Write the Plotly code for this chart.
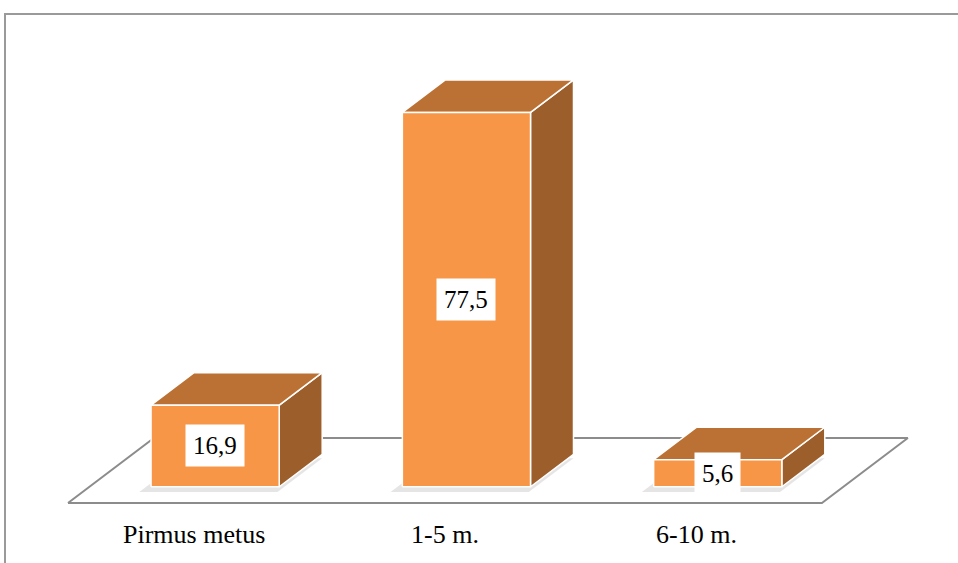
import plotly.graph_objects as go

# Data
categories = ["Pirmus metus", "1-5 m.", "6-10 m."]
values = [16.9, 77.5, 5.6]
value_labels = ["16,9", "77,5", "5,6"]

# Colours of the three visible faces
FRONT = "#F79646"
TOP = "#BC7134"
SIDE = "#9C5E2A"
FLOOR_LINE = "#8C8C8C"
SERIF = "Times New Roman, Liberation Serif, Tinos, serif"

# Oblique projection: one unit of depth moves a point right and up (data units)
DEPTH_DX = 0.342
DEPTH_DY = 13.45
BAR_WIDTH = 0.51
BAR_D0, BAR_D1 = 0.25, 0.75  # bar occupies the middle half of the floor depth


def proj(x, y, d):
    return x + d * DEPTH_DX, y + d * DEPTH_DY


def poly(points, fill, line_color, line_width):
    xs = [p[0] for p in points] + [points[0][0]]
    ys = [p[1] for p in points] + [points[0][1]]
    return go.Scatter(
        x=xs, y=ys, mode="lines", fill="toself" if fill else "none",
        fillcolor=fill, line=dict(color=line_color, width=line_width),
        hoverinfo="skip", showlegend=False,
    )


fig = go.Figure()

# Floor parallelogram under the bars
n = len(categories)
floor = [proj(0, 0, 0), proj(n, 0, 0), proj(n, 0, 1), proj(0, 0, 1)]
fig.add_trace(poly(floor, "white", FLOOR_LINE, 2))

annotations = []
for i, (cat, v, lab) in enumerate(zip(categories, values, value_labels)):
    x0 = i + 0.5 - BAR_WIDTH / 2
    x1 = i + 0.5 + BAR_WIDTH / 2
    # soft shadow on the floor
    sh = [proj(x0 - 0.04, -0.8, BAR_D0 - 0.02), proj(x1, -0.8, BAR_D0 - 0.02),
          proj(x1, -0.8, BAR_D1), proj(x0 - 0.04, -0.8, BAR_D1)]
    fig.add_trace(poly(sh, "rgba(110,110,110,0.18)", "rgba(0,0,0,0)", 0))
    # side face
    side = [proj(x1, 0, BAR_D0), proj(x1, 0, BAR_D1), proj(x1, v, BAR_D1), proj(x1, v, BAR_D0)]
    fig.add_trace(poly(side, SIDE, "white", 1.5))
    # top face
    top = [proj(x0, v, BAR_D0), proj(x1, v, BAR_D0), proj(x1, v, BAR_D1), proj(x0, v, BAR_D1)]
    fig.add_trace(poly(top, TOP, "white", 1.5))
    # front face
    front = [proj(x0, 0, BAR_D0), proj(x1, 0, BAR_D0), proj(x1, v, BAR_D0), proj(x0, v, BAR_D0)]
    fig.add_trace(poly(front, FRONT, "white", 1.5))

    cx, cy = proj(i + 0.5, v / 2, BAR_D0)
    annotations.append(dict(
        x=cx, y=cy, xref="x", yref="y", text=lab, showarrow=False,
        font=dict(family=SERIF, size=25, color="black"),
        bgcolor="white", borderpad=7,
    ))
    annotations.append(dict(
        x=i + 0.5, y=-6.6, xref="x", yref="y", text=cat, showarrow=False,
        font=dict(family=SERIF, size=26, color="black"),
    ))

# Outer frame
shapes = [dict(type="rect", xref="paper", yref="paper",
               x0=5 / 958, x1=1.05, y0=-0.05, y1=1 - 14 / 563,
               line=dict(color="#9A9A9A", width=2), fillcolor="rgba(0,0,0,0)",
               layer="below")]

fig.update_layout(
    width=958, height=563,
    margin=dict(l=0, r=0, t=0, b=0),
    paper_bgcolor="white", plot_bgcolor="white",
    xaxis=dict(range=[-68 / 251.3, (958 - 68) / 251.3], visible=False, fixedrange=True),
    yaxis=dict(range=[-60 / 4.83, 503 / 4.83], visible=False, fixedrange=True),
    annotations=annotations, shapes=shapes,
    showlegend=False,
)

fig.write_html("out.html")
